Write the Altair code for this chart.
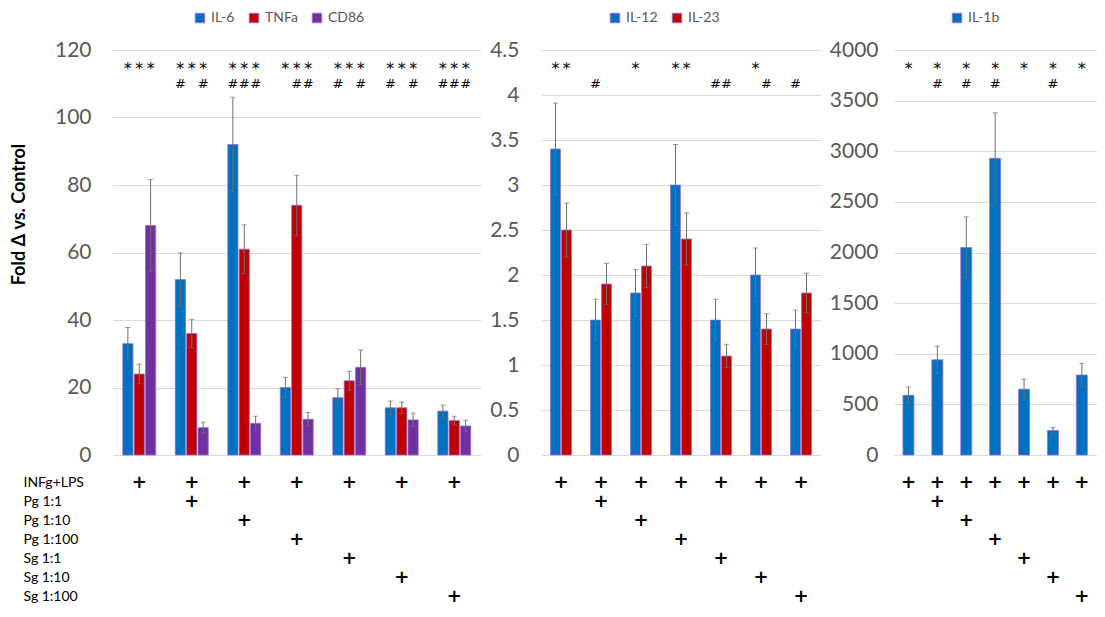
import altair as alt
import pandas as pd

# ---------------- data ----------------
conditions = ["INFg+LPS", "Pg 1:1", "Pg 1:10", "Pg 1:100", "Sg 1:1", "Sg 1:10", "Sg 1:100"]
treatment_rows = ["INFg+LPS", "Pg 1:1", "Pg 1:10", "Pg 1:100", "Sg 1:1", "Sg 1:10", "Sg 1:100"]

# Panel 1
p1_series = ["IL-6", "TNFa", "CD86"]
il6 = [33, 52, 92, 20, 17, 14, 13]
il6_err = [4.8, 7.9, 14, 3.0, 2.6, 2.0, 1.8]
tnfa = [24, 36, 61, 74, 22, 14, 10.2]
tnfa_err = [2.9, 4.2, 7.2, 8.9, 2.8, 1.7, 1.3]
cd86 = [68, 8.1, 9.4, 10.6, 26, 10.4, 8.6]
cd86_err = [13.6, 1.6, 2.1, 2.0, 5.1, 2.0, 1.7]
p1_star = {"IL-6": [1, 1, 1, 1, 1, 1, 1], "TNFa": [1, 1, 1, 1, 1, 1, 1], "CD86": [1, 1, 1, 1, 1, 1, 1]}
p1_hash = {"IL-6": [0, 1, 1, 0, 1, 1, 1], "TNFa": [0, 0, 1, 1, 0, 0, 1], "CD86": [0, 1, 1, 1, 1, 1, 1]}

# Panel 2
p2_series = ["IL-12", "IL-23"]
il12 = [3.4, 1.5, 1.8, 3.0, 1.5, 2.0, 1.4]
il12_err = [0.51, 0.23, 0.26, 0.45, 0.23, 0.30, 0.21]
il23 = [2.5, 1.9, 2.1, 2.4, 1.1, 1.4, 1.8]
il23_err = [0.30, 0.23, 0.24, 0.29, 0.13, 0.17, 0.22]
p2_star = {"IL-12": [1, 0, 1, 1, 0, 1, 0], "IL-23": [1, 0, 0, 1, 0, 0, 0]}
p2_hash = {"IL-12": [0, 1, 0, 0, 1, 0, 1], "IL-23": [0, 0, 0, 0, 1, 1, 0]}

# Panel 3
p3_series = ["IL-1b"]
il1b = [590, 940, 2050, 2930, 650, 243, 790]
il1b_err = [82, 135, 302, 450, 99, 30, 115]
p3_star = {"IL-1b": [1, 1, 1, 1, 1, 1, 1]}
p3_hash = {"IL-1b": [0, 1, 1, 1, 0, 1, 0]}

BLUE, RED, PURPLE = "#0070C0", "#C00000", "#7030A0"
OUTLINE = "#9b6fd6"
FONT = "Lato"
BAR_H = 405
ROW_STEP = 19


def long_df(series, values, errors):
    rows = []
    for s, vals, errs in zip(series, values, errors):
        for c, v, e in zip(conditions, vals, errs):
            rows.append(dict(group=c, series=s, value=v, lo=v - e, hi=v + e))
    return pd.DataFrame(rows)


def marks_df(series, flags, ypos, sym):
    rows = []
    for s in series:
        for c, f in zip(conditions, flags[s]):
            if f:
                rows.append(dict(group=c, series=s, y=ypos, t=sym))
    return pd.DataFrame(rows)


def plus_df():
    rows = []
    for i, c in enumerate(conditions):
        rows.append(dict(group=c, row=treatment_rows[0]))
        if i > 0:
            rows.append(dict(group=c, row=treatment_rows[i]))
    return pd.DataFrame(rows)


def panel(series, values, errors, colors, stars, hashes, ymax, ystep, step, group_w,
          legend_x, title=None, row_labels=False, label_pad=22):
    W = 7 * step
    df = long_df(series, values, errors)
    sdf = marks_df(series, stars, ymax * (1 - 17 / BAR_H), "*")
    hdf = marks_df(series, hashes, ymax * (1 - 32 / BAR_H), "#")

    xscale = alt.Scale(domain=conditions, paddingInner=0, paddingOuter=0)
    xenc = alt.X("group:N", sort=conditions, axis=None, scale=xscale)
    off0 = (step - group_w) / 2
    xoff = alt.XOffset("series:N", sort=series,
                       scale=alt.Scale(domain=series, range=[off0, off0 + group_w],
                                       paddingInner=0.1, paddingOuter=0))
    yscale = alt.Scale(domain=[0, ymax], nice=False, zero=True)
    ticks = [round(i * ystep, 6) for i in range(int(round(ymax / ystep)) + 1)]
    axis_kw = dict(values=ticks, grid=True, gridColor="#d9d9d9", gridWidth=1,
                   domain=False, ticks=False, tickSize=0, labelPadding=label_pad,
                   labelFontSize=21, labelColor="#595959", labelFont=FONT, format="~r")
    if title:
        axis_kw.update(titleFont=FONT, titleFontSize=18, titleFontWeight="bold",
                       titleColor="black", titlePadding=26, titleY=164)
    yaxis = alt.Axis(**axis_kw)

    def Y(field):
        return alt.Y(field, scale=yscale, axis=yaxis, title=title)

    bars = alt.Chart(df).mark_bar(stroke=OUTLINE, strokeWidth=0.8).encode(
        x=xenc, xOffset=xoff, y=Y("value:Q"),
        color=alt.Color("series:N", sort=series,
                        scale=alt.Scale(domain=series, range=colors),
                        legend=alt.Legend(orient="none", legendX=legend_x, legendY=-39,
                                          direction="horizontal", title=None,
                                          symbolType="square", symbolSize=90,
                                          symbolStrokeColor=OUTLINE, symbolStrokeWidth=1,
                                          labelFontSize=14, labelFont=FONT,
                                          labelColor="#595959", columnPadding=12,
                                          labelOffset=4, padding=0)),
    )
    rules = alt.Chart(df).mark_rule(color="#6f6f6f", strokeWidth=1).encode(
        x=xenc, xOffset=xoff, y=Y("lo:Q"), y2="hi:Q")
    cap_hi = alt.Chart(df).mark_tick(color="#6f6f6f", thickness=1, size=5).encode(
        x=xenc, xOffset=xoff, y=Y("hi:Q"))
    cap_lo = alt.Chart(df).mark_tick(color="#6f6f6f", thickness=1, size=5).encode(
        x=xenc, xOffset=xoff, y=Y("lo:Q"))
    layers = [bars, rules, cap_hi, cap_lo]
    if len(sdf):
        layers.append(alt.Chart(sdf).mark_text(fontSize=16, font="DejaVu Sans", color="black",
                                               baseline="middle", dy=2).encode(
            x=xenc, xOffset=xoff, y=Y("y:Q"), text="t:N"))
    if len(hdf):
        layers.append(alt.Chart(hdf).mark_text(fontSize=13, font="DejaVu Sans", color="black",
                                               baseline="middle", dy=2).encode(
            x=xenc, xOffset=xoff, y=Y("y:Q"), text="t:N"))
    top = alt.layer(*layers).properties(width=W, height=BAR_H)

    if row_labels:
        raxis = alt.Axis(title=None, domain=False, ticks=False, tickSize=0, grid=False,
                         labelAlign="left", labelPadding=90, labelFontSize=14,
                         labelFont=FONT, labelColor="black")
    else:
        raxis = None
    yrow = alt.Y("row:N", sort=treatment_rows,
                 scale=alt.Scale(type="point", padding=0.25), axis=raxis)
    plus = alt.Chart(plus_df()).mark_text(text="+", fontSize=18, fontWeight="bold",
                                         font="DejaVu Sans", color="black").encode(
        x=alt.X("group:N", sort=conditions, axis=None, scale=xscale),
        y=yrow,
    ).properties(width=W, height=ROW_STEP * 6.5)

    return alt.vconcat(top, plus, spacing=23, bounds="flush").resolve_scale(
        x="independent", y="independent", xOffset="independent")


p1 = panel(p1_series, [il6, tnfa, cd86], [il6_err, tnfa_err, cd86_err],
           [BLUE, RED, PURPLE], p1_star, p1_hash, 120, 20, 52.5, 33, 80,
           title="Fold Δ vs. Control", row_labels=True, label_pad=22)
p2 = panel(p2_series, [il12, il23], [il12_err, il23_err], [BLUE, RED],
           p2_star, p2_hash, 4.5, 0.5, 40, 21, 67, label_pad=22)
p3 = panel(p3_series, [il1b], [il1b_err], [BLUE], p3_star, p3_hash,
           4000, 500, 28.9, 11, 56, label_pad=16)

chart = alt.hconcat(p1, p2, p3, spacing=8).resolve_scale(
    color="independent", x="independent", y="independent", xOffset="independent"
).resolve_legend(color="independent").properties(
    padding={"left": 2, "top": 3, "right": 0, "bottom": 0}
).configure_view(stroke=None)

chart.save("out.html", embed_options={"renderer": "svg", "actions": False})
